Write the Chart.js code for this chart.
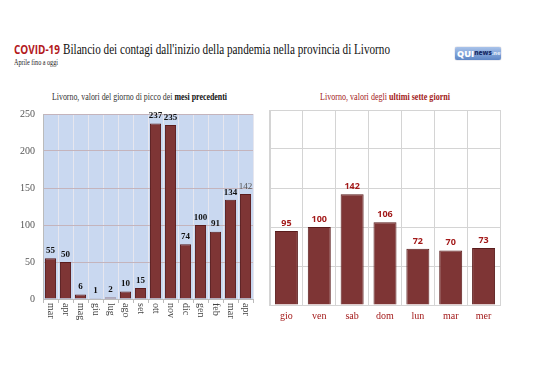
<!DOCTYPE html>
<html><head><meta charset="utf-8">
<script src="https://cdn.jsdelivr.net/npm/chart.js@4/dist/chart.umd.min.js"></script>
<style>
body{margin:0;background:#fff;width:538px;height:380px;position:relative;overflow:hidden}
.t{position:absolute;white-space:nowrap;transform-origin:0 50%;line-height:1}
canvas{position:absolute}
#logo{position:absolute;left:455px;top:47px;width:46px;height:13px;border-radius:2px;background:linear-gradient(#a9c3ea,#5d86c6);box-shadow:0 0 1px #557;font-family:'Open Sans',sans-serif;font-weight:800;line-height:1;overflow:hidden;white-space:nowrap;display:flex;align-items:center;box-sizing:border-box;padding-left:2px}
#logo span{display:block}
</style></head><body>
<div class="t" id="covid" style="left:14px;top:44px;font-family:'Open Sans';font-weight:700;color:#b3191c;font-size:12px">COVID-19</div>
<div class="t" id="mainT" style="left:63px;top:42px;font-family:'Liberation Serif';font-size:15px;color:#111">Bilancio dei contagi dall'inizio della pandemia nella provincia di Livorno</div>
<div class="t" id="subT" style="left:14px;top:59px;font-family:'Liberation Serif';font-size:8px;color:#222">Aprile fino a oggi</div>
<div id="logo"><span style="color:#fff;font-size:9px">QUI</span><span style="color:#1b2f6a;font-size:6.5px">news</span><span style="color:#dfe8f7;font-size:5.5px">.net</span></div>
<div class="t" id="lt" style="left:52px;top:93px;font-family:'Liberation Serif';font-size:9.5px;color:#333">Livorno, valori del giorno di picco dei <b style="color:#111">mesi precedenti</b></div>
<div class="t" id="rt" style="left:320px;top:93px;font-family:'Liberation Serif';font-size:9.5px;color:#a31a1a">Livorno, valori degli <b>ultimi sette giorni</b></div>
<canvas id="c1" width="268" height="245" style="left:0;top:100px"></canvas>
<canvas id="c2" width="270" height="245" style="left:268px;top:100px"></canvas>
<script>
const monthLabels = ['mar','apr','mag','giu','lug','ago','set','ott','nov','dic','gen','feb','mar','apr'];
const monthValues = [55,50,6,1,2,10,15,237,235,74,100,91,134,142];
const dayLabels = ['gio','ven','sab','dom','lun','mar','mer'];
const dayValues = [95,100,142,106,72,70,73];
const yMin = 0, yMax = 250, yStep = 50;

function fit(id, w){
  const el = document.getElementById(id);
  const cur = el.getBoundingClientRect().width;
  el.style.transform = 'scaleX(' + (w/cur) + ')';
}
fit('covid', 46); fit('mainT', 327); fit('subT', 44); fit('lt', 175); fit('rt', 130);

const BAR = '#7e3535', BARB = '#5a1c1c';

const bgPlugin = {
  id:'bg',
  beforeDraw(chart, args, opts){
    if(!opts.color) return;
    const a = chart.chartArea, ctx = chart.ctx;
    ctx.save(); ctx.fillStyle = opts.color;
    ctx.fillRect(a.left, a.top, a.right-a.left, a.bottom-a.top);
    ctx.restore();
  }
};
const labelPlugin = {
  id:'vals',
  afterDatasetsDraw(chart, args, opts){
    const ctx = chart.ctx, meta = chart.getDatasetMeta(0), data = chart.data.datasets[0].data;
    ctx.save(); ctx.textAlign='center'; ctx.textBaseline='bottom';
    meta.data.forEach((bar,i)=>{
      const st = opts.style(i);
      ctx.font = st.font; ctx.fillStyle = st.color;
      ctx.fillText(String(data[i]), bar.x, bar.y - 3);
    });
    ctx.restore();
  }
};
const xLabelPlugin = {
  id:'xl',
  afterDraw(chart, args, opts){
    const ctx = chart.ctx, sc = chart.scales.x, labels = chart.data.labels;
    ctx.save(); ctx.font = opts.font; ctx.fillStyle = opts.color;
    labels.forEach((l,i)=>{
      const x = sc.getPixelForTick(i);
      if(opts.rotate){
        ctx.save(); ctx.translate(x, chart.chartArea.bottom + opts.offset);
        ctx.rotate(Math.PI/2); ctx.textAlign='left'; ctx.textBaseline='middle';
        ctx.fillText(l, 0, 0); ctx.restore();
      } else {
        ctx.textAlign='center'; ctx.textBaseline='middle';
        ctx.fillText(l, x, chart.chartArea.bottom + opts.offset);
      }
    });
    ctx.restore();
  }
};

new Chart(document.getElementById('c1'), {
  type:'bar',
  data:{labels:monthLabels, datasets:[{data:monthValues, backgroundColor:BAR, borderColor:BARB, borderWidth:1, barPercentage:0.74, categoryPercentage:1}]},
  plugins:[bgPlugin,labelPlugin,xLabelPlugin],
  options:{
    responsive:false, animation:false, devicePixelRatio:1,
    layout:{padding:{left:0,right:15,top:12,bottom:0}},
    plugins:{legend:{display:false}, tooltip:{enabled:false},
      bg:{color:'#c9d8f0'},
      vals:{style:(i)=> i===monthValues.length-1 ? {font:'9px "Liberation Serif"',color:'#555'} : {font:'bold 9px "Liberation Serif"',color:'#111'}},
      xl:{font:'10px "Liberation Serif"', color:'#444', rotate:true, offset:4}
    },
    scales:{
      x:{grid:{color:'#e6e6ee', tickLength:4, tickColor:'#bbb'}, border:{color:'#bbb'}, ticks:{display:false},
         afterFit(s){ s.height = 46; }},
      y:{min:yMin, max:yMax, ticks:{stepSize:yStep, font:{family:'Liberation Serif', size:10}, color:'#555', padding:8},
         grid:{color:'#c4b4bc', tickLength:0}, border:{color:'#bbb'},
         afterFit(s){ s.width = 43; }}
    }
  }
});

new Chart(document.getElementById('c2'), {
  type:'bar',
  data:{labels:dayLabels, datasets:[{data:dayValues, backgroundColor:BAR, borderColor:BARB, borderWidth:1, barPercentage:0.7, categoryPercentage:1}]},
  plugins:[labelPlugin,xLabelPlugin],
  options:{
    responsive:false, animation:false, devicePixelRatio:1,
    layout:{padding:{left:2,right:38,top:10,bottom:0}},
    plugins:{legend:{display:false}, tooltip:{enabled:false},
      vals:{style:()=>({font:'bold 9px "Open Sans"', color:'#a31a1a'})},
      xl:{font:'10px "Liberation Serif"', color:'#a31a1a', rotate:false, offset:11}
    },
    scales:{
      x:{grid:{color:'#d4d4d4', tickLength:0}, border:{color:'#d4d4d4'}, ticks:{display:false},
         afterFit(s){ s.height = 40; }},
      y:{min:yMin, max:yMax, ticks:{display:false, stepSize:yStep},
         grid:{color:'#d4d4d4', tickLength:0}, border:{color:'#d4d4d4'},
         afterFit(s){ s.width = 0; }}
    }
  }
});
</script>
</body></html>
